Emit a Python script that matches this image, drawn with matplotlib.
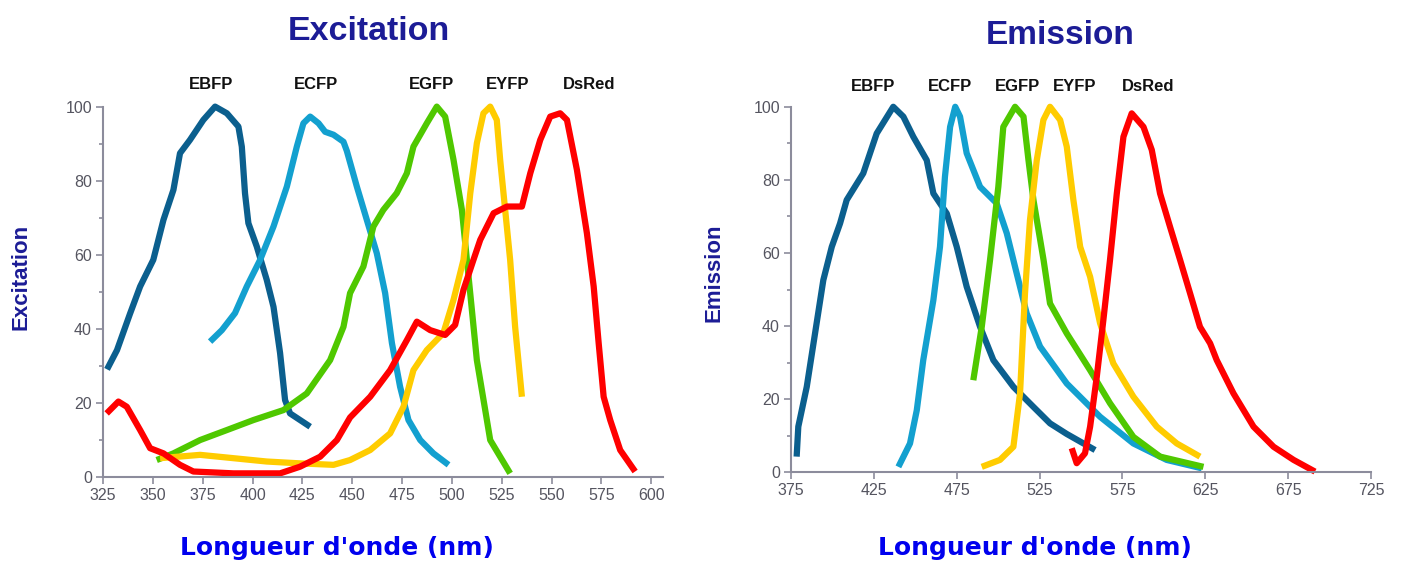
#!/usr/bin/python3
"""
Spectres d'excitation et d'émission des protéines fluorescentes
(EBFP, ECFP, EGFP, EYFP, DsRed).
"""

import matplotlib
matplotlib.use("Agg")
import matplotlib.pyplot as plt

# --- Données : excitation ---
ex_ebfp_nm = [327, 332, 338.5, 343.6, 350.2, 355.3, 360.3, 363.6, 368.6, 375.3, 381.2,
              387.1, 392.9, 394.6, 396.2, 397.9, 402.1, 407.1, 410.5, 413.8, 416.3, 418.8, 428.9]
ex_ebfp_val = [29, 34.2, 44, 51.4, 58.6, 69.4, 77.5, 87.4, 91, 96.4, 100,
               98.2, 94.6, 89.2, 76.6, 68.5, 62.2, 53.2, 45.9, 33.4, 20.7, 17.1, 13.5]

ex_ecfp_nm = [378.7, 384.6, 391.2, 397.1, 403.8, 410.5, 417.2, 422.2, 425.5, 428.9, 433.1,
              436.4, 440.6, 445.6, 447.3, 452.3, 457.3, 462.3, 466.5, 469.9, 474.0, 478.2,
              484.1, 490.7, 498.3]
ex_ecfp_val = [36.5, 39.6, 44.2, 51.4, 58.6, 67.6, 78.4, 89.2, 95.5, 97.3, 95.5,
               93.2, 92.4, 90.5, 88, 78.4, 69.4, 60.4, 49.6, 36.1, 24.3, 15.3,
               9.9, 6.3, 3.2]

ex_egfp_nm = [351.9, 360.3, 373.7, 387.1, 400.4, 415.5, 427.2, 438.9, 445.6, 448.9, 455.6,
              460.6, 465.6, 472.3, 477.4, 480.7, 487.4, 492.4, 496.6, 500.8, 505.0, 507.5,
              510.0, 512.5, 516.7, 519.2, 524.2, 529.2]
ex_egfp_val = [4.5, 6.3, 9.9, 12.6, 15.3, 18.0, 22.5, 31.5, 40.5, 49.6, 56.8,
               67.6, 72.1, 76.6, 82, 89.2, 95.5, 100, 97.3, 85.6, 72.1, 58.6,
               45.1, 31.5, 18.0, 9.9, 5.4, 0.9]

ex_eyfp_nm = [353.6, 373.7, 390.4, 407.1, 423.8, 440.6, 448.9, 459, 469, 475.7, 480.7,
              487.4, 495.7, 500.8, 505.8, 509.2, 512.5, 515.8, 519.2, 522.5, 524.2,
              526.7, 529.2, 531.7, 535.1]
ex_eyfp_val = [5.0, 5.9, 5.0, 4.1, 3.6, 3.2, 4.5, 7.2, 11.7, 18.9, 28.8,
               34.2, 38.8, 47.8, 58.6, 76.6, 90.1, 98.2, 100, 96.4, 85.6,
               72.1, 58.6, 40.5, 21.6]

ex_dsred_nm = [326.8, 332.7, 336.9, 343.6, 348.6, 355.3, 363.6, 370.3, 390.4, 413.8, 423.8,
               433.9, 442.3, 448.9, 459, 469, 477.4, 482.4, 489.1, 496.6, 501.6, 505.8,
               510.8, 514.2, 520.9, 527.6, 535.1, 539.3, 544.3, 549.3, 554.3, 557.7,
               562.7, 567.7, 571.1, 573.6, 576.1, 579.4, 584.4, 591.9]
ex_dsred_val = [17.1, 20.3, 18.9, 12.6, 7.7, 6.3, 3.2, 1.4, 0.9, 0.9, 2.7,
                5.4, 9.9, 16, 21.6, 28.8, 36.9, 41.9, 39.6, 38.3, 41.0, 50.5,
                58.6, 64, 71.2, 73.0, 73.0, 82, 91, 97.3, 98.2, 96.4,
                82.9, 65.8, 51.4, 36.1, 21.6, 15.3, 7.2, 1.4]

# --- Données : émission ---
em_ebfp_nm = [378.4, 379.4, 384.5, 389.5, 394.5, 399.6, 404.6, 408.6, 418.6, 426.7, 436.7,
              442.8, 448.8, 456.9, 460.9, 469.0, 475, 481, 489.1, 497.1, 509.2, 521.3,
              531.3, 541.4, 558.5]
em_ebfp_val = [4.3, 12.5, 23.4, 38.0, 52.6, 61.7, 68.1, 74.5, 81.8, 92.7, 100,
               97.3, 91.8, 85.4, 76.3, 70.8, 61.7, 50.8, 39.8, 30.7, 23.4, 17.9,
               13.4, 10.5, 6.1]

em_ecfp_nm = [439.8, 446.8, 450.9, 454.8, 460.9, 464.9, 467.9, 471.0, 474.1, 477.0, 481.0,
              489.1, 499.1, 505.2, 511.2, 517.2, 525.3, 541.4, 561.5, 581.6, 601.7, 622.9]
em_ecfp_val = [1.5, 7.9, 17.0, 30.7, 47.1, 61.7, 80.9, 94.5, 100, 97.3, 87.3,
               78.1, 73.6, 65.4, 54.4, 43.5, 34.4, 24.3, 15.2, 7.9, 3.4, 1.1]

em_egfp_nm = [485.0, 490.1, 495.1, 500.1, 503.1, 510.2, 515.3, 518.3, 521.3, 527.4, 531.3,
              541.4, 555.4, 567.5, 581.6, 597.7, 623.9]
em_egfp_val = [25.2, 39.8, 58.1, 78.1, 94.5, 100, 97.3, 85.4, 74.5, 58.1, 46.2,
               38.0, 28.0, 18.9, 9.7, 4.3, 1.5]

em_eyfp_nm = [490.1, 501.1, 509.2, 513.2, 516.2, 519.2, 523.3, 527.3, 531.3, 537.4, 541.4,
              545.4, 549.5, 555.5, 561.5, 569.5, 581.6, 595.7, 607.8, 621.8]
em_eyfp_val = [1.5, 3.4, 7.0, 21.6, 49.0, 69.0, 85.4, 96.4, 100, 96.4, 89.1,
               74.5, 61.7, 53.5, 40.8, 29.8, 20.7, 12.5, 7.9, 4.3]

em_dsred_nm = [544.4, 547.4, 552.4, 555.5, 559.5, 563.5, 567.5, 571.6, 575.6, 580.6, 587.7,
               592.7, 597.7, 603.7, 609.8, 615.8, 621.8, 627.9, 631.9, 642.0, 654.1,
               666.2, 678.3, 691.2]
em_dsred_val = [6.6, 2.5, 5.2, 12.5, 26.1, 41.7, 58.1, 76.3, 91.8, 98.2, 94.5,
                88.2, 76.3, 67.2, 58.1, 49.0, 39.8, 35.3, 30.7, 21.6, 12.5,
                7.0, 3.4, 0.2]

noms = ["EBFP", "ECFP", "EGFP", "EYFP", "DsRed"]
couleurs = ["#0b5f8e", "#13a0cf", "#4fc800", "#ffcc00", "#ff0000"]

# positions des étiquettes (nm)
ex_label_nm = [379, 432, 490, 528, 569]
em_label_nm = [424.5, 471, 511.4, 546.4, 590.5]

narrow = ["Liberation Sans", "DejaVu Sans"]
titre_col = "#1c1c96"
axe_col = "#8c8c9c"
tick_col = "#555560"

W, H = 1404, 565


def style_axes(ax, xticks):
    ax.set_ylim(0, 100)
    ax.set_yticks([0, 20, 40, 60, 80, 100])
    ax.set_yticks([10, 30, 50, 70, 90], minor=True)
    ax.set_xticks(xticks)
    for s in ["top", "right"]:
        ax.spines[s].set_visible(False)
    for s in ["left", "bottom"]:
        ax.spines[s].set_color(axe_col)
        ax.spines[s].set_linewidth(1.5)
    ax.tick_params(which="both", colors=axe_col, width=1.2, length=5, direction="out", pad=3)
    ax.tick_params(which="minor", length=3)
    for lab in ax.get_xticklabels() + ax.get_yticklabels():
        lab.set_family(narrow)
        lab.set_fontsize(11.5)
        lab.set_color(tick_col)


def trace(ax, series, label_nm, label_y):
    for (x, y), nom, col, lx in zip(series, noms, couleurs, label_nm):
        ax.plot(x, y, color=col, lw=4.5, solid_capstyle="butt",
                solid_joinstyle="round", clip_on=False)
        ax.text(lx, label_y, nom, ha="center", va="center",
                fontsize=12, fontweight="bold", family=narrow, color="#111111")


def fig_text(px, py, s, **kw):
    fig.text(px / W, 1 - py / H, s, ha="center", va="center", **kw)


fig = plt.figure(figsize=(14.04, 5.65), dpi=100)

# --- Excitation ---
ax1 = fig.add_axes([0.0734, 0.1563, 0.399, 0.655])
ex_series = [(ex_ebfp_nm, ex_ebfp_val), (ex_ecfp_nm, ex_ecfp_val), (ex_egfp_nm, ex_egfp_val),
             (ex_eyfp_nm, ex_eyfp_val), (ex_dsred_nm, ex_dsred_val)]
trace(ax1, ex_series, ex_label_nm, 106)
ax1.set_xlim(325, 606)
style_axes(ax1, list(range(325, 601, 25)))

# --- Emission ---
ax2 = fig.add_axes([0.5634, 0.164, 0.4131, 0.647])
em_series = [(em_ebfp_nm, em_ebfp_val), (em_ecfp_nm, em_ecfp_val), (em_egfp_nm, em_egfp_val),
             (em_eyfp_nm, em_eyfp_val), (em_dsred_nm, em_dsred_val)]
trace(ax2, em_series, em_label_nm, 105.5)
ax2.set_xlim(375, 725)
style_axes(ax2, list(range(375, 726, 50)))

# Titres et libellés
fig_text(369, 31, "Excitation", fontsize=24.5, fontweight="bold", family=narrow, color=titre_col)
fig_text(1060, 36, "Emission", fontsize=24, fontweight="bold", family=narrow, color=titre_col)
fig_text(21, 277, "Excitation", fontsize=16, fontweight="bold", family=narrow,
         color=titre_col, rotation=90)
fig_text(714, 273, "Emission", fontsize=16, fontweight="bold", family=narrow,
         color=titre_col, rotation=90)
fig_text(337, 548, "Longueur d'onde (nm)", fontsize=18, fontweight="bold", color="#0000ee")
fig_text(1035, 548, "Longueur d'onde (nm)", fontsize=18, fontweight="bold", color="#0000ee")

fig.savefig("out.png", dpi=100, facecolor="white")
